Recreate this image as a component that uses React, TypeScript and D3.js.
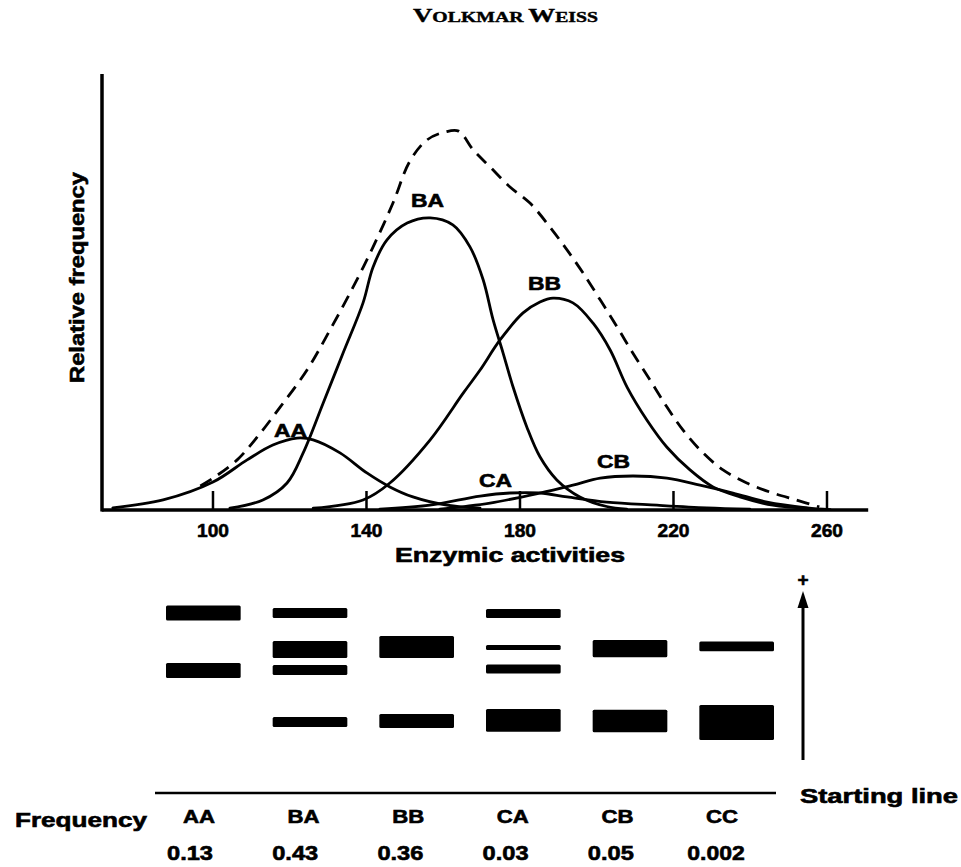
import React from 'react';
import * as d3 from 'd3';

// ---------- DATA ----------
const xTicks = [100, 140, 180, 220, 260];

// [enzymic activity, relative frequency (0-100)]
const curveAA: [number, number][] = [
  [73.9, 0.5], [87.0, 2.3], [100, 6.4], [108.9, 11.5], [115.6, 14.9], [121.9, 16.5],
  [126.1, 16.1], [133.1, 13.1], [140.1, 8.5], [146.1, 5.3], [152.1, 3.0], [161.0, 1.1], [169.6, 0.4],
];
const curveBA: [number, number][] = [
  [104.4, 0.4], [113.0, 2.3], [119.3, 6.2], [123.5, 13.1], [128.7, 24.5], [133.9, 36.0],
  [139.1, 47.5], [141.7, 55.7], [145.3, 61.9], [150.6, 65.8], [156.6, 67.0], [162.5, 65.4],
  [167.0, 60.3], [170.4, 52.8], [173.0, 43.6], [175.6, 36.0], [178.2, 28.2], [181.8, 19.0],
  [185.2, 12.2], [189.6, 6.9], [195.6, 3.0], [202.6, 0.8], [207.8, 0.2],
];
const curveBB: [number, number][] = [
  [126.1, 0.4], [139.1, 2.3], [146.1, 6.2], [156.6, 16.1], [165.2, 26.8], [169.6, 32.1],
  [174.8, 39.0], [180.8, 45.2], [185.2, 47.7], [188.6, 48.6], [193.8, 47.5], [199.0, 42.9],
  [203.5, 36.7], [207.9, 28.2], [213.1, 20.6], [218.3, 14.4], [224.3, 9.2], [230.3, 5.3],
  [237.3, 3.0], [245.9, 1.1], [254.8, 0.4],
];
const curveCA: [number, number][] = [
  [143.5, 0.2], [156.5, 1.1], [169.6, 3.2], [177.4, 3.9], [185.2, 3.9], [192.3, 3.0],
  [202.6, 1.8], [215.7, 1.1], [228.7, 0.5], [239.9, 0.2],
];
const curveCB: [number, number][] = [
  [159.1, 0.2], [172.2, 1.6], [185.2, 3.9], [193.8, 5.7], [200.9, 7.3], [209.4, 7.8],
  [218.3, 7.3], [226.9, 5.7], [235.5, 3.9], [244.4, 1.8], [254.8, 0.5], [260.8, 0.1],
];
const curveTotal: [number, number][] = [
  [96.7, 5.5], [100, 7.3], [106.3, 11.5], [111.5, 16.7], [117.5, 23.6], [124.5, 32.1],
  [130.5, 41.3], [136.5, 51.1], [141.7, 60.3], [146.9, 70.4], [151.3, 80.0], [155.8, 84.9],
  [160.5, 86.7], [164.0, 86.9], [167.8, 82.6], [172.2, 78.7], [177.4, 74.1], [182.6, 70.4],
  [187.8, 64.9], [192.3, 59.6], [196.4, 54.4], [200.9, 48.2], [205.3, 42.0], [209.4, 36.0],
  [213.9, 29.8], [218.3, 23.6], [222.5, 18.3], [227.7, 13.1], [232.9, 9.2], [239.1, 6.2],
  [245.9, 3.9], [252.0, 2.3], [258.0, 0.7],
];
const curveNames = ['AA', 'BA', 'BB', 'CA', 'CB'];

// Gel: genotypes, bands [mobility from starting line, band intensity]
const genotypes = ['AA', 'BA', 'BB', 'CA', 'CB', 'CC'];
const bandsAA: [number, number][] = [[90, 7.5], [61.3, 7.5]];
const bandsBA: [number, number][] = [[90, 5], [71.8, 8.5], [61.5, 5], [35.5, 5]];
const bandsBB: [number, number][] = [[73, 11], [36, 7]];
const bandsCA: [number, number][] = [[89.7, 4.5], [72.8, 2.5], [62, 4.5], [36.3, 11.3]];
const bandsCB: [number, number][] = [[72.2, 8.7], [36, 11.2]];
const bandsCC: [number, number][] = [[73.3, 4.8], [35.3, 17.5]];
const genotypeFreq = ['0.13', '0.43', '0.36', '0.03', '0.05', '0.002'];

// ---------- LAYOUT ----------
const W = 961, H = 867;
const font = "'Liberation Sans', Arial, Helvetica, sans-serif";
const heavy = { stroke: '#000', strokeWidth: 0.6, fill: '#000' };

export default function App() {
  const x = d3.scaleLinear().domain([71, 271]).range([101.7, 869.2]);
  const y = d3.scaleLinear().domain([0, 100]).range([510, 74]);
  const line = d3.line<[number, number]>()
    .x(d => x(d[0])).y(d => y(d[1]))
    .curve(d3.curveCatmullRom.alpha(0.5));

  const curves = [curveAA, curveBA, curveBB, curveCA, curveCB];
  const labelAt: Record<string, [number, number]> = {
    AA: [120.2, 16.7], BA: [155.9, 69.5], BB: [186.4, 50.5], CA: [173.6, 5.3], CB: [204.4, 9.6],
  };

  const gel = d3.scaleLinear().domain([0, 100]).range([793, 593]);
  const col = d3.scaleBand<string>().domain(genotypes).range([166, 774]).paddingInner(0.3).paddingOuter(0);
  const labX = d3.scalePoint<string>().domain(genotypes).range([199, 722]);
  const valX = d3.scalePoint<string>().domain(genotypes).range([190, 716]);
  const allBands = [bandsAA, bandsBA, bandsBB, bandsCA, bandsCB, bandsCC];

  const x0 = x.range()[0];
  const y0 = y(0);

  return (
    <svg width={W} height={H} style={{ position: 'absolute', left: 0, top: 0, background: '#fff' }}
      xmlns="http://www.w3.org/2000/svg">
      <rect x={0} y={0} width={W} height={H} fill="#fff" />
      {/* Title */}
      <text x={413} y={22} textLength={185} lengthAdjust="spacingAndGlyphs"
        fontFamily="'Liberation Serif', 'Times New Roman', serif" fontWeight="bold" {...heavy} strokeWidth={0.4}>
        <tspan fontSize={19}>V</tspan><tspan fontSize={14}>OLKMAR </tspan>
        <tspan fontSize={19}>W</tspan><tspan fontSize={14}>EISS</tspan>
      </text>

      {/* Axes */}
      <line x1={x0 + 0.3} x2={x0 + 0.3} y1={y(100)} y2={y0 + 1.5} stroke="#000" strokeWidth={3.5} />
      <line x1={x0} x2={x.range()[1] - 1} y1={y0} y2={y0} stroke="#000" strokeWidth={3.5} />
      {xTicks.map(t => (
        <g key={t}>
          <line x1={x(t)} x2={x(t)} y1={y0} y2={y0 - 19} stroke="#000" strokeWidth={2.5} />
          <text x={x(t)} y={537} textAnchor="middle" fontFamily={font} fontWeight="bold" fontSize={19}
            textLength={32} lengthAdjust="spacingAndGlyphs" {...heavy}>{t}</text>
        </g>
      ))}
      <text x={510} y={562} textAnchor="middle" fontFamily={font} fontWeight="bold" fontSize={20}
        textLength={230} lengthAdjust="spacingAndGlyphs" {...heavy}>Enzymic activities</text>
      <text transform="translate(84,277.5) rotate(-90)" textAnchor="middle" fontFamily={font}
        fontWeight="bold" fontSize={20} textLength={211} lengthAdjust="spacingAndGlyphs" {...heavy}>Relative frequency</text>

      {/* Curves */}
      {curves.map((c, i) => (
        <path key={curveNames[i]} d={line(c) || ''} fill="none" stroke="#000" strokeWidth={2.8}
          strokeLinecap="round" strokeLinejoin="round" />
      ))}
      <path d={line(curveTotal) || ''} fill="none" stroke="#000" strokeWidth={2.8} strokeDasharray="13 8" />
      {curveNames.map(n => (
        <text key={n} x={x(labelAt[n][0])} y={y(labelAt[n][1])} textAnchor="middle" fontFamily={font}
          fontWeight="bold" fontSize={19} textLength={33} lengthAdjust="spacingAndGlyphs" {...heavy}>{n}</text>
      ))}

      {/* Gel bands */}
      {genotypes.map((g, i) => (
        <g key={g}>
          {allBands[i].map(([m, w], j) => (
            <rect key={j} x={col(g)} width={col.bandwidth()} y={gel(m + w / 2)}
              height={gel(m - w / 2) - gel(m + w / 2)} rx={1.5} fill="#000" />
          ))}
        </g>
      ))}
      {/* Migration arrow */}
      <line x1={803} x2={803} y1={760} y2={604} stroke="#000" strokeWidth={3} />
      <polygon points="803,591 797.5,608 808.5,608" fill="#000" />
      <text x={803} y={586} textAnchor="middle" fontFamily={font} fontWeight="bold" fontSize={19} {...heavy}>+</text>

      {/* Starting line */}
      <line x1={155} x2={776} y1={gel(0)} y2={gel(0)} stroke="#000" strokeWidth={2.5} />
      <text x={800} y={803} fontFamily={font} fontWeight="bold" fontSize={20}
        textLength={158} lengthAdjust="spacingAndGlyphs" {...heavy}>Starting line</text>
      <text x={15} y={827} fontFamily={font} fontWeight="bold" fontSize={20}
        textLength={132} lengthAdjust="spacingAndGlyphs" {...heavy}>Frequency</text>
      {genotypes.map((g, i) => (
        <g key={g}>
          <text x={labX(g)} y={823} textAnchor="middle" fontFamily={font} fontWeight="bold" fontSize={19}
            textLength={32} lengthAdjust="spacingAndGlyphs" {...heavy}>{g}</text>
          <text x={valX(g)} y={860} textAnchor="middle" fontFamily={font} fontWeight="bold" fontSize={20}
            textLength={genotypeFreq[i].length * 11.5} lengthAdjust="spacingAndGlyphs" {...heavy}>{genotypeFreq[i]}</text>
        </g>
      ))}
    </svg>
  );
}
